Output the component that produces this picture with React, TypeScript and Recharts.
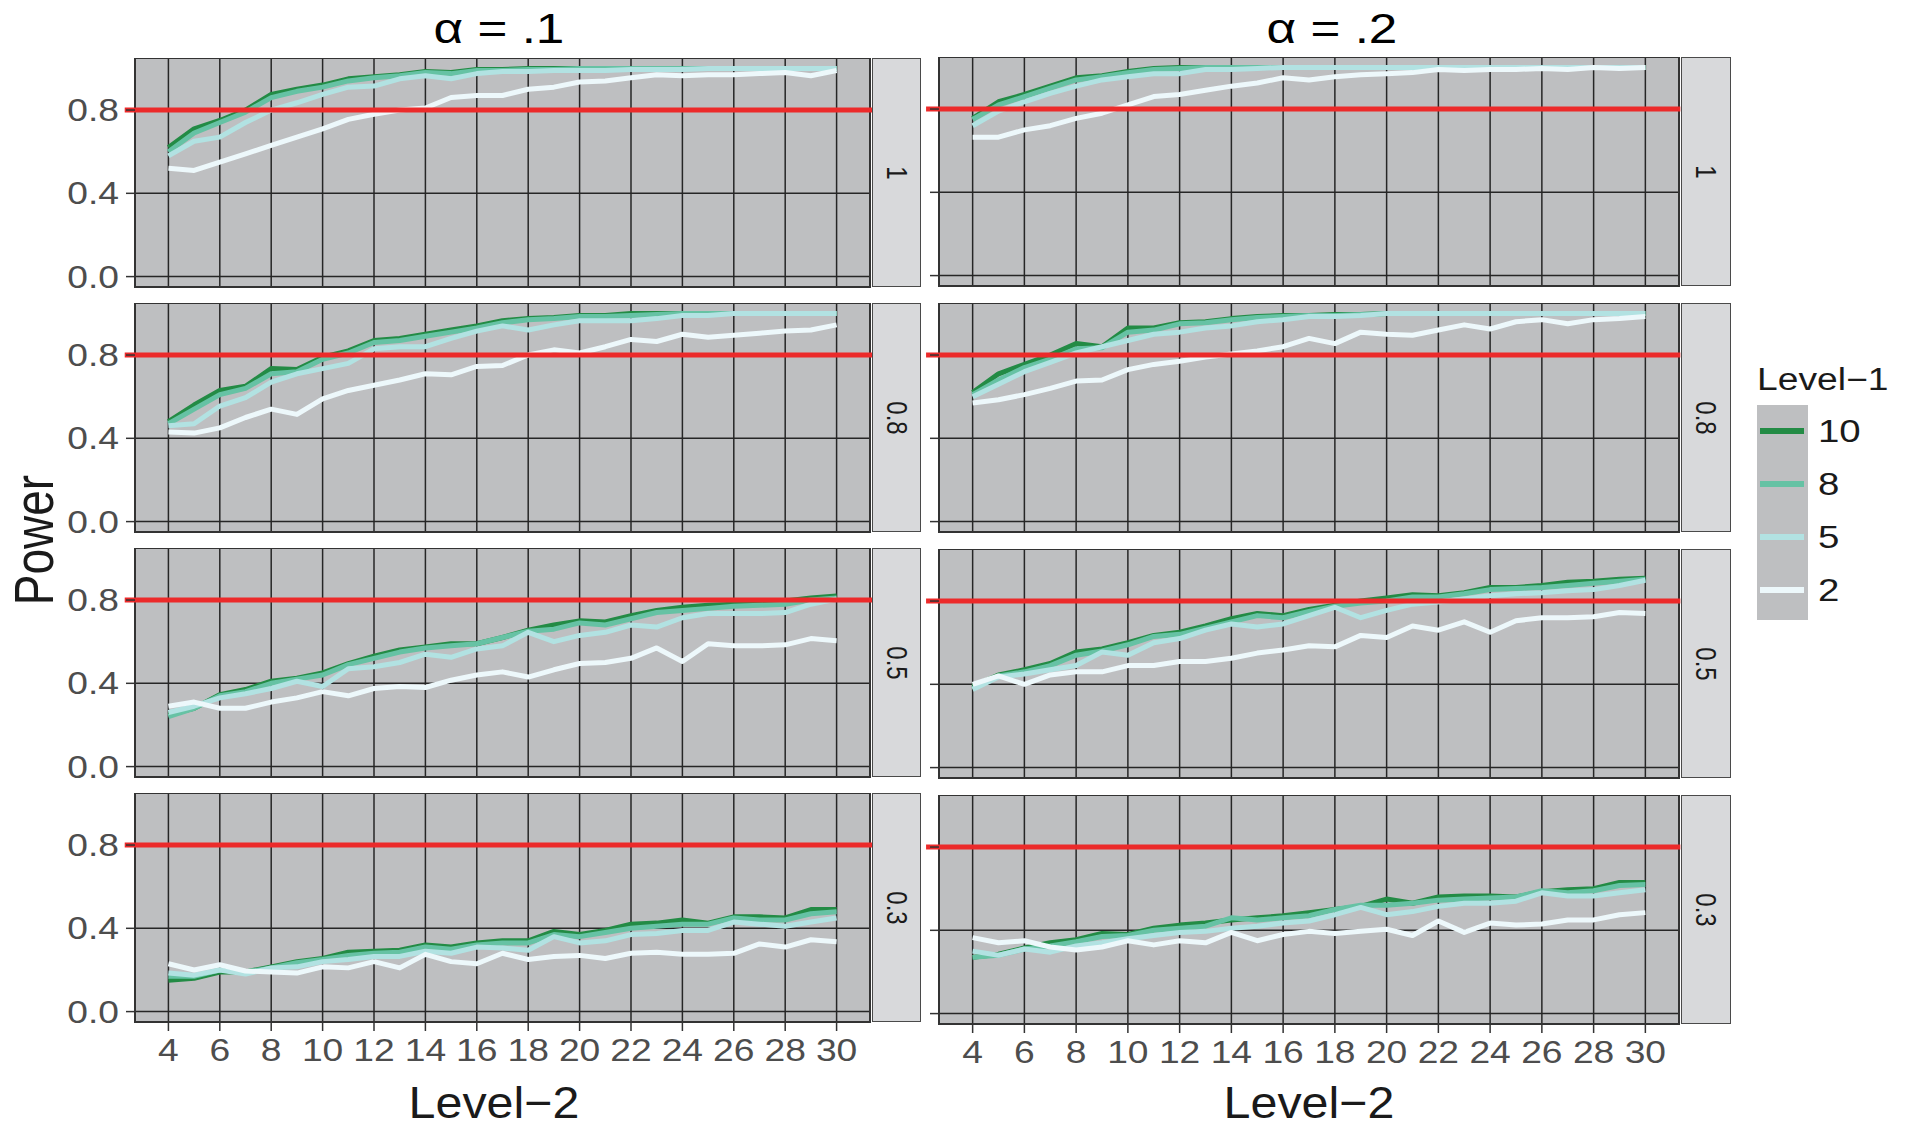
import React from 'react';
import { LineChart, Line, XAxis, YAxis, CartesianGrid, ReferenceLine, ReferenceArea } from 'recharts';

// ---------- categories / labels ----------
const level2 = [4, 5, 6, 7, 8, 9, 10, 11, 12, 13, 14, 15, 16, 17, 18, 19, 20, 21, 22, 23, 24, 25, 26, 27, 28, 29, 30];
const xTicks = [4, 6, 8, 10, 12, 14, 16, 18, 20, 22, 24, 26, 28, 30];
const yTicks = [0, 0.4, 0.8];
const alphaLabels = ['α = .1', 'α = .2'];
const iccLabels = ['1', '0.8', '0.5', '0.3'];
const level1Labels = ['10', '8', '5', '2'];
const level1Keys = ['n10', 'n8', 'n5', 'n2'];
const level1Colors = ['#238b45', '#66c2a4', '#b2e2e2', '#edf8fb'];
const targetPower = 0.8;

// ---------- alpha = .1 ----------
const a1_icc1_n10 = [0.62, 0.71, 0.75, 0.8, 0.875, 0.9, 0.92, 0.95, 0.96, 0.97, 0.985, 0.98, 0.995, 0.995, 1.0, 1.0, 1.0, 1.0, 1.0, 1.0, 1.0, 1.0, 1.0, 1.0, 1.0, 1.0, 1.0];
const a1_icc1_n8 = [0.6, 0.69, 0.74, 0.79, 0.86, 0.89, 0.91, 0.94, 0.955, 0.965, 0.98, 0.975, 0.99, 0.99, 0.995, 0.995, 1.0, 1.0, 1.0, 1.0, 1.0, 1.0, 1.0, 1.0, 1.0, 1.0, 1.0];
const a1_icc1_n5 = [0.58, 0.65, 0.67, 0.74, 0.8, 0.835, 0.875, 0.91, 0.915, 0.95, 0.965, 0.95, 0.975, 0.985, 0.985, 0.99, 0.99, 0.99, 0.995, 0.995, 0.995, 1.0, 1.0, 1.0, 1.0, 1.0, 1.0];
const a1_icc1_n2 = [0.52, 0.51, 0.55, 0.59, 0.63, 0.67, 0.71, 0.755, 0.78, 0.8, 0.81, 0.86, 0.87, 0.87, 0.9, 0.91, 0.935, 0.94, 0.955, 0.97, 0.965, 0.97, 0.97, 0.975, 0.98, 0.965, 0.99];

const a1_icc08_n10 = [0.48, 0.56, 0.63, 0.65, 0.735, 0.73, 0.79, 0.82, 0.87, 0.88, 0.9, 0.92, 0.94, 0.965, 0.975, 0.98, 0.99, 0.99, 1.0, 1.0, 1.0, 1.0, 1.0, 1.0, 1.0, 1.0, 1.0];
const a1_icc08_n8 = [0.47, 0.54, 0.61, 0.64, 0.71, 0.72, 0.78, 0.81, 0.86, 0.87, 0.89, 0.91, 0.93, 0.955, 0.97, 0.975, 0.985, 0.985, 0.99, 0.995, 1.0, 1.0, 1.0, 1.0, 1.0, 1.0, 1.0];
const a1_icc08_n5 = [0.46, 0.47, 0.555, 0.595, 0.67, 0.71, 0.735, 0.76, 0.83, 0.84, 0.84, 0.88, 0.915, 0.94, 0.92, 0.945, 0.965, 0.965, 0.965, 0.975, 0.99, 0.99, 1.0, 1.0, 1.0, 1.0, 1.0];
const a1_icc08_n2 = [0.43, 0.425, 0.45, 0.5, 0.54, 0.515, 0.59, 0.63, 0.655, 0.68, 0.71, 0.705, 0.745, 0.75, 0.8, 0.825, 0.81, 0.84, 0.875, 0.865, 0.9, 0.885, 0.895, 0.905, 0.915, 0.92, 0.945];

const a1_icc05_n10 = [0.25, 0.28, 0.345, 0.37, 0.41, 0.425, 0.45, 0.495, 0.53, 0.56, 0.575, 0.59, 0.59, 0.62, 0.655, 0.68, 0.7, 0.695, 0.725, 0.75, 0.765, 0.775, 0.78, 0.79, 0.795, 0.81, 0.82];
const a1_icc05_n8 = [0.24, 0.28, 0.34, 0.36, 0.4, 0.42, 0.44, 0.49, 0.52, 0.55, 0.57, 0.58, 0.59, 0.62, 0.65, 0.66, 0.69, 0.68, 0.71, 0.74, 0.75, 0.76, 0.77, 0.775, 0.78, 0.8, 0.81];
const a1_icc05_n5 = [0.26, 0.29, 0.33, 0.35, 0.375, 0.41, 0.385, 0.47, 0.48, 0.5, 0.54, 0.525, 0.565, 0.58, 0.645, 0.6, 0.63, 0.645, 0.68, 0.67, 0.715, 0.735, 0.735, 0.735, 0.74, 0.78, 0.805];
const a1_icc05_n2 = [0.29, 0.31, 0.28, 0.28, 0.31, 0.33, 0.36, 0.34, 0.375, 0.385, 0.38, 0.415, 0.44, 0.455, 0.43, 0.465, 0.495, 0.5, 0.52, 0.57, 0.505, 0.59, 0.58, 0.58, 0.585, 0.615, 0.605];

const a1_icc03_n10 = [0.15, 0.16, 0.19, 0.19, 0.215, 0.24, 0.255, 0.285, 0.29, 0.295, 0.32, 0.31, 0.33, 0.34, 0.34, 0.385, 0.37, 0.39, 0.42, 0.425, 0.44, 0.425, 0.455, 0.455, 0.45, 0.49, 0.49];
const a1_icc03_n8 = [0.17, 0.17, 0.2, 0.19, 0.21, 0.235, 0.25, 0.27, 0.28, 0.285, 0.31, 0.3, 0.32, 0.33, 0.33, 0.37, 0.36, 0.38, 0.4, 0.41, 0.42, 0.42, 0.45, 0.44, 0.44, 0.47, 0.48];
const a1_icc03_n5 = [0.185, 0.175, 0.2, 0.18, 0.21, 0.215, 0.24, 0.25, 0.265, 0.265, 0.29, 0.28, 0.31, 0.305, 0.295, 0.36, 0.33, 0.34, 0.37, 0.375, 0.39, 0.39, 0.43, 0.42, 0.41, 0.43, 0.45];
const a1_icc03_n2 = [0.23, 0.2, 0.225, 0.195, 0.19, 0.185, 0.215, 0.21, 0.24, 0.21, 0.275, 0.24, 0.23, 0.28, 0.25, 0.265, 0.27, 0.255, 0.28, 0.285, 0.275, 0.275, 0.28, 0.325, 0.31, 0.345, 0.335];

// ---------- alpha = .2 ----------
const a2_icc1_n10 = [0.755, 0.835, 0.87, 0.91, 0.95, 0.96, 0.98, 0.995, 1.0, 1.0, 1.0, 1.0, 1.0, 1.0, 1.0, 1.0, 1.0, 1.0, 1.0, 1.0, 1.0, 1.0, 1.0, 1.0, 1.0, 1.0, 1.0];
const a2_icc1_n8 = [0.75, 0.82, 0.86, 0.9, 0.94, 0.955, 0.975, 0.99, 0.995, 1.0, 1.0, 1.0, 1.0, 1.0, 1.0, 1.0, 1.0, 1.0, 1.0, 1.0, 1.0, 1.0, 1.0, 1.0, 1.0, 1.0, 1.0];
const a2_icc1_n5 = [0.72, 0.79, 0.835, 0.875, 0.91, 0.94, 0.955, 0.97, 0.97, 0.99, 0.99, 0.995, 1.0, 1.0, 1.0, 1.0, 1.0, 1.0, 1.0, 1.0, 1.0, 1.0, 1.0, 1.0, 1.0, 1.0, 1.0];
const a2_icc1_n2 = [0.665, 0.665, 0.7, 0.72, 0.755, 0.78, 0.82, 0.86, 0.87, 0.89, 0.91, 0.925, 0.95, 0.94, 0.955, 0.965, 0.97, 0.975, 0.99, 0.985, 0.99, 0.99, 0.995, 0.99, 1.0, 0.995, 1.0];

const a2_icc08_n10 = [0.62, 0.71, 0.755, 0.8, 0.855, 0.84, 0.93, 0.93, 0.955, 0.96, 0.975, 0.985, 0.99, 0.99, 0.995, 0.995, 1.0, 1.0, 1.0, 1.0, 1.0, 1.0, 1.0, 1.0, 1.0, 1.0, 1.0];
const a2_icc08_n8 = [0.61, 0.68, 0.74, 0.78, 0.83, 0.835, 0.91, 0.92, 0.95, 0.955, 0.97, 0.98, 0.985, 0.99, 0.99, 0.995, 1.0, 1.0, 1.0, 1.0, 1.0, 1.0, 1.0, 1.0, 1.0, 1.0, 1.0];
const a2_icc08_n5 = [0.6, 0.66, 0.72, 0.765, 0.81, 0.84, 0.87, 0.9, 0.91, 0.93, 0.94, 0.96, 0.97, 0.985, 0.985, 0.99, 1.0, 1.0, 1.0, 1.0, 1.0, 1.0, 1.0, 1.0, 1.0, 1.0, 1.0];
const a2_icc08_n2 = [0.57, 0.585, 0.61, 0.64, 0.675, 0.68, 0.73, 0.755, 0.77, 0.79, 0.805, 0.82, 0.84, 0.88, 0.855, 0.91, 0.9, 0.895, 0.92, 0.945, 0.925, 0.96, 0.97, 0.95, 0.97, 0.975, 0.985];

const a2_icc05_n10 = [0.39, 0.445, 0.47, 0.5, 0.555, 0.57, 0.6, 0.635, 0.65, 0.68, 0.715, 0.74, 0.73, 0.76, 0.78, 0.8, 0.815, 0.83, 0.825, 0.84, 0.865, 0.865, 0.875, 0.89, 0.895, 0.905, 0.91];
const a2_icc05_n8 = [0.38, 0.44, 0.46, 0.49, 0.54, 0.56, 0.59, 0.63, 0.64, 0.67, 0.7, 0.73, 0.72, 0.75, 0.775, 0.79, 0.8, 0.82, 0.82, 0.835, 0.855, 0.86, 0.865, 0.875, 0.885, 0.895, 0.905];
const a2_icc05_n5 = [0.375, 0.435, 0.45, 0.47, 0.49, 0.555, 0.54, 0.6, 0.62, 0.66, 0.69, 0.675, 0.69, 0.73, 0.77, 0.72, 0.755, 0.785, 0.795, 0.81, 0.825, 0.835, 0.84, 0.85, 0.855, 0.875, 0.9];
const a2_icc05_n2 = [0.4, 0.44, 0.4, 0.445, 0.46, 0.46, 0.49, 0.49, 0.51, 0.51, 0.525, 0.55, 0.565, 0.585, 0.58, 0.635, 0.625, 0.68, 0.66, 0.7, 0.65, 0.705, 0.72, 0.72, 0.725, 0.745, 0.74];

const a2_icc03_n10 = [0.27, 0.285, 0.315, 0.34, 0.355, 0.385, 0.38, 0.41, 0.425, 0.435, 0.45, 0.46, 0.47, 0.485, 0.5, 0.515, 0.55, 0.53, 0.56, 0.565, 0.565, 0.56, 0.585, 0.595, 0.6, 0.63, 0.63];
const a2_icc03_n8 = [0.27, 0.28, 0.31, 0.325, 0.345, 0.37, 0.375, 0.4, 0.41, 0.42, 0.46, 0.45, 0.46, 0.47, 0.5, 0.52, 0.52, 0.53, 0.545, 0.55, 0.555, 0.56, 0.59, 0.58, 0.59, 0.615, 0.62];
const a2_icc03_n5 = [0.3, 0.28, 0.31, 0.295, 0.325, 0.34, 0.36, 0.375, 0.39, 0.395, 0.41, 0.42, 0.435, 0.445, 0.475, 0.51, 0.475, 0.49, 0.515, 0.53, 0.53, 0.54, 0.58, 0.565, 0.565, 0.58, 0.595];
const a2_icc03_n2 = [0.365, 0.34, 0.35, 0.32, 0.305, 0.32, 0.35, 0.33, 0.35, 0.34, 0.39, 0.35, 0.38, 0.395, 0.385, 0.395, 0.405, 0.375, 0.445, 0.39, 0.435, 0.425, 0.43, 0.45, 0.45, 0.475, 0.485];

const build = (n10: number[], n8: number[], n5: number[], n2: number[]) =>
  level2.map((x, i) => ({ x, n10: n10[i], n8: n8[i], n5: n5[i], n2: n2[i] }));

const panelData = [
  [
    build(a1_icc1_n10, a1_icc1_n8, a1_icc1_n5, a1_icc1_n2),
    build(a1_icc08_n10, a1_icc08_n8, a1_icc08_n5, a1_icc08_n2),
    build(a1_icc05_n10, a1_icc05_n8, a1_icc05_n5, a1_icc05_n2),
    build(a1_icc03_n10, a1_icc03_n8, a1_icc03_n5, a1_icc03_n2),
  ],
  [
    build(a2_icc1_n10, a2_icc1_n8, a2_icc1_n5, a2_icc1_n2),
    build(a2_icc08_n10, a2_icc08_n8, a2_icc08_n5, a2_icc08_n2),
    build(a2_icc05_n10, a2_icc05_n8, a2_icc05_n5, a2_icc05_n2),
    build(a2_icc03_n10, a2_icc03_n8, a2_icc03_n5, a2_icc03_n2),
  ],
];

// ---------- layout ----------
const FONT = '"Liberation Sans", Arial, Helvetica, sans-serif';
const X_DOMAIN: [number, number] = [2.7, 31.3];
const Y_DOMAIN: [number, number] = [-0.05, 1.05];
const PANEL_H = 229;
const BOTTOM_AXIS_H = 70;
const SPACER_AXIS_H = 14;
const cols = [
  { chartLeft: 0, yAxisW: 135, plotW: 735, rightM: 10, rowTops: [58, 303, 548, 793], stripLeft: 872, stripW: 49, redFrom: 2.3, redTo: 31.5, showLabels: true, titleX: 499, xTitleX: 494 },
  { chartLeft: 915, yAxisW: 24, plotW: 740, rightM: 6, rowTops: [57, 303, 549, 795], stripLeft: 1681, stripW: 50, redFrom: 2.2, redTo: 31.35, showLabels: false, titleX: 1332, xTitleX: 1309 },
];

const YTick = (props: any) => {
  const { x, y, payload } = props;
  return (
    <text x={x} y={y} dy="0.36em" textAnchor="end" fill="#4d4d4d" fontSize={31} fontFamily={FONT}
      transform={`translate(${x} ${y}) scale(1.2 1) translate(${-x} ${-y})`}>
      {Number(payload.value).toFixed(1)}
    </text>
  );
};
const EmptyTick = () => <g />;
const XTick = (props: any) => {
  const { x, y, payload } = props;
  return (
    <text x={x} y={y} dy="0.71em" textAnchor="middle" fill="#4d4d4d" fontSize={31} fontFamily={FONT}
      transform={`translate(${x} ${y}) scale(1.2 1) translate(${-x} ${-y})`}>
      {payload.value}
    </text>
  );
};

const Panel = ({ col, row }: { col: number; row: number }) => {
  const c = cols[col];
  const isBottom = row === 3;
  const axisH = isBottom ? BOTTOM_AXIS_H : SPACER_AXIS_H;
  const h = PANEL_H + axisH;
  const w = c.yAxisW + c.plotW + c.rightM;
  return (
    <div style={{ position: 'absolute', left: c.chartLeft, top: c.rowTops[row] }}>
      <LineChart width={w} height={h} data={panelData[col][row]} margin={{ top: 0, right: c.rightM, bottom: 0, left: 0 }}>
        <CartesianGrid fill="#bebfc1" fillOpacity={1} stroke="#262626" strokeWidth={1.5} />
        <XAxis type="number" dataKey="x" domain={X_DOMAIN} ticks={xTicks} allowDataOverflow
          height={axisH}
          axisLine={false}
          tickLine={isBottom ? { stroke: '#333', strokeWidth: 1.5 } : false}
          tick={isBottom ? XTick : EmptyTick}
          tickSize={9} tickMargin={8} interval={0} />
        <YAxis type="number" domain={Y_DOMAIN} ticks={yTicks} allowDataOverflow width={c.yAxisW}
          axisLine={false} tickLine={{ stroke: '#333', strokeWidth: 1.5 }}
          tick={c.showLabels ? YTick : EmptyTick} tickSize={9} tickMargin={7} interval={0} />
        {level1Keys.map((k, i) => (
          <Line key={k} type="linear" dataKey={k} stroke={level1Colors[i]} strokeWidth={5}
            strokeLinejoin="round" dot={false} activeDot={false} isAnimationActive={false} />
        ))}
        <ReferenceLine segment={[{ x: c.redFrom, y: targetPower }, { x: c.redTo, y: targetPower }]}
          stroke="#ec2a2a" strokeWidth={5} ifOverflow="visible" />
        <ReferenceArea x1={X_DOMAIN[0]} x2={X_DOMAIN[1]} y1={Y_DOMAIN[0]} y2={Y_DOMAIN[1]}
          fill="none" fillOpacity={0} stroke="#333" strokeWidth={2} ifOverflow="visible" />
      </LineChart>
      <div style={{
        position: 'absolute', left: c.stripLeft - c.chartLeft, top: 0, width: c.stripW, height: PANEL_H,
        boxSizing: 'border-box', background: '#d8d9db', border: '1.5px solid #4a4a4a',
        display: 'flex', alignItems: 'center', justifyContent: 'center',
      }}>
        <div style={{ transform: 'rotate(90deg) scaleY(1.2)', fontSize: 24, color: '#1a1a1a', fontFamily: FONT, whiteSpace: 'nowrap' }}>
          {iccLabels[row]}
        </div>
      </div>
    </div>
  );
};

const centered = (cx: number, cy: number, extra: string): React.CSSProperties => ({
  position: 'absolute', left: cx, top: cy, transform: `translate(-50%, -50%) ${extra}`, whiteSpace: 'nowrap', lineHeight: 1.15,
});

export default function App() {
  return (
    <div style={{ position: 'absolute', left: 0, top: 0, width: 1913, height: 1128, background: '#fff', fontFamily: FONT, overflow: 'hidden' }}>
      {[0, 1].map((col) => [0, 1, 2, 3].map((row) => <Panel key={`${col}-${row}`} col={col} row={row} />))}
      {alphaLabels.map((t, i) => (
        <div key={t} style={{ ...centered(cols[i].titleX, 29, 'scaleX(1.22)'), fontSize: 42, color: '#000' }}>{t}</div>
      ))}
      {cols.map((c, i) => (
        <div key={`xt${i}`} style={{ ...centered(c.xTitleX, 1103, 'scaleX(1.1)'), fontSize: 44, color: '#1a1a1a' }}>Level−2</div>
      ))}
      <div style={{ ...centered(34, 540, 'rotate(-90deg) scaleY(1.2)'), fontSize: 46, color: '#1a1a1a' }}>Power</div>
      {/* legend */}
      <div style={{ position: 'absolute', left: 1757, top: 362, fontSize: 31, color: '#1a1a1a', transform: 'scaleX(1.2)', transformOrigin: 'left center', whiteSpace: 'nowrap', lineHeight: 1.15 }}>Level−1</div>
      <div style={{ position: 'absolute', left: 1757, top: 405, width: 51, height: 215, background: '#bebfc1' }} />
      {level1Labels.map((lab, i) => (
        <React.Fragment key={lab}>
          <div style={{ position: 'absolute', left: 1760, top: 431 + i * 53 - 3, width: 44, height: 6, background: level1Colors[i] }} />
          <div style={{ position: 'absolute', left: 1818, top: 431 + i * 53, transform: 'translateY(-50%) scaleX(1.2)', transformOrigin: 'left center', fontSize: 32, color: '#1a1a1a', lineHeight: 1.15 }}>{lab}</div>
        </React.Fragment>
      ))}
    </div>
  );
}
